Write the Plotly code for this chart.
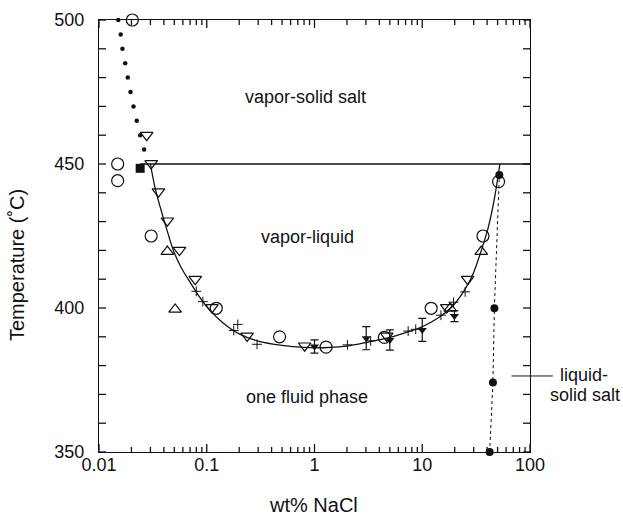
import plotly.graph_objects as go

# Vapor-liquid boundary (solid curve)
curve_x = [0.0300, 0.0330, 0.0370, 0.0420, 0.0490, 0.0580, 0.0700, 0.0850, 0.1050,
           0.1400, 0.2000, 0.3000, 0.5000, 0.8000, 1.2000, 2.0000, 3.0000, 5.0000,
           7.5000, 10.000, 14.000, 19.000, 24.000, 29.000, 35.000, 41.000, 47.000, 52.500]
curve_T = [450.0, 442.0, 435.0, 428.0, 420.0, 414.0, 409.0, 404.0, 399.5,
           395.0, 391.0, 388.5, 387.0, 386.3, 386.2, 386.8, 388.0, 389.8,
           391.8, 393.5, 396.5, 400.5, 405.5, 411.0, 419.5, 428.0, 438.5, 450.0]

# Vapor-liquid-halite line
three_phase_x = [0.0241, 100.0]
three_phase_T = [450.0, 450.0]

# Vapor-halite boundary (small dots)
vh_x = [0.0151, 0.0159, 0.0165, 0.0175, 0.0185, 0.0196, 0.0209, 0.0224, 0.0241, 0.0262]
vh_T = [500, 495, 490, 485, 480, 475, 470, 465, 460, 455]

# Filled square
sq_x = [0.0241]
sq_T = [448.5]

# Open circles
circ_x = [0.0204, 0.0149, 0.0149, 0.0305, 0.1225, 0.474, 1.28, 4.45, 12.1, 36.6, 51.1]
circ_T = [500.0, 450.0, 444.2, 425.0, 399.9, 390.0, 386.4, 389.8, 399.9, 425.0, 443.9]

# Open down-triangles
tdn_x = [0.0277, 0.0305, 0.0356, 0.0431, 0.0558, 0.0782, 0.1117, 0.237, 0.81, 4.68, 16.9, 26.4]
tdn_T = [460.0, 450.2, 440.4, 430.3, 420.1, 410.0, 400.2, 390.3, 386.9, 390.3, 400.2, 410.0]

# Open up-triangles
tup_x = [0.0431, 0.0509, 18.2, 35.3]
tup_T = [419.6, 399.5, 399.9, 419.6]

# Filled down-triangles with error bars
fdn_x = [1.00, 3.02, 5.0, 10.0, 19.9]
fdn_T = [386.6, 389.5, 388.9, 392.4, 397.2]
fdn_err = [2.3, 4.0, 3.5, 4.0, 1.9]

# Crosses
plus_x = [0.080, 0.092, 0.178, 0.194, 0.293, 2.02, 3.32, 7.4, 8.7, 14.9, 19.5, 25.0]
plus_T = [405.8, 402.2, 392.2, 394.3, 387.4, 387.2, 388.6, 392.0, 392.6, 397.5, 402.0, 405.6]

# Liquid-halite (filled circles, dotted line)
lh_x = [42.2, 45.3, 46.7, 51.9]
lh_T = [350.0, 374.1, 399.9, 446.2]

# Axis ranges and tick positions
X_RANGE_LOG = [-2, 2]
Y_RANGE = [350, 500]
x_major = [0.01, 0.1, 1, 10, 100]
x_labels = ["0.01", "0.1", "1", "10", "100"]
x_minor = [m * d for d in [0.01, 0.1, 1, 10] for m in range(2, 10)]
y_major = [350, 400, 450, 500]
y_minor = [360, 370, 380, 390, 410, 420, 430, 440, 460, 470, 480, 490]

W, H = 623, 515
M = dict(l=99, r=93, t=20, b=63)
PLOT_W = W - M["l"] - M["r"]
PLOT_H = H - M["t"] - M["b"]

FONT = "Liberation Sans, Arial, Helvetica, sans-serif"
BLACK = "#111111"

fig = go.Figure()

fig.add_trace(go.Scatter(x=three_phase_x, y=three_phase_T, mode="lines",
                         line=dict(color=BLACK, width=1.3)))
fig.add_trace(go.Scatter(x=curve_x, y=curve_T, mode="lines",
                         line=dict(color=BLACK, width=1.3, shape="spline", smoothing=0.8)))
fig.add_trace(go.Scatter(x=lh_x, y=lh_T, mode="lines+markers", cliponaxis=False,
                         line=dict(color=BLACK, width=1, dash="dot"),
                         marker=dict(symbol="circle", size=8, color=BLACK)))
fig.add_trace(go.Scatter(x=vh_x, y=vh_T, mode="markers", cliponaxis=False,
                         marker=dict(symbol="circle", size=4.5, color=BLACK)))
fig.add_trace(go.Scatter(x=sq_x, y=sq_T, mode="markers",
                         marker=dict(symbol="square", size=9, color=BLACK)))
fig.add_trace(go.Scatter(x=circ_x, y=circ_T, mode="markers", cliponaxis=False,
                         marker=dict(symbol="circle-open", size=12, color=BLACK,
                                     line=dict(color=BLACK, width=1.2))))
fig.add_trace(go.Scatter(x=tdn_x, y=tdn_T, mode="markers",
                         marker=dict(symbol="triangle-down-open", size=11, color=BLACK,
                                     line=dict(color=BLACK, width=1.2))))
fig.add_trace(go.Scatter(x=tup_x, y=tup_T, mode="markers",
                         marker=dict(symbol="triangle-up-open", size=11, color=BLACK,
                                     line=dict(color=BLACK, width=1.2))))
fig.add_trace(go.Scatter(x=fdn_x, y=fdn_T, mode="markers",
                         error_y=dict(type="data", array=fdn_err, color=BLACK,
                                      thickness=1.2, width=4),
                         marker=dict(symbol="triangle-down", size=8, color=BLACK)))
fig.add_trace(go.Scatter(x=plus_x, y=plus_T, mode="markers",
                         marker=dict(symbol="cross-thin", size=7, color=BLACK,
                                     line=dict(color=BLACK, width=1))))

# Inward tick marks on all four sides: one short line trace per tick
# (pixel lengths converted to axis units)
x_lo, x_hi = X_RANGE_LOG
y_lo, y_hi = Y_RANGE
px_y = (y_hi - y_lo) / PLOT_H          # degrees per pixel
px_x = (x_hi - x_lo) / PLOT_W          # decades per pixel
tick_line = dict(color=BLACK, width=1.3)
for v, ln in [(v, 8) for v in x_major] + [(v, 5) for v in x_minor]:
    for y0, y1 in ((y_lo, y_lo + ln * px_y), (y_hi, y_hi - ln * px_y)):
        fig.add_trace(go.Scatter(x=[v, v], y=[y0, y1], mode="lines", cliponaxis=False,
                                 hoverinfo="skip", line=tick_line))
for v in y_major + y_minor:
    ln = 7
    for x0, x1 in ((10 ** x_lo, 10 ** (x_lo + ln * px_x)), (10 ** x_hi, 10 ** (x_hi - ln * px_x))):
        fig.add_trace(go.Scatter(x=[x0, x1], y=[v, v], mode="lines", cliponaxis=False,
                                 hoverinfo="skip", line=tick_line))

tick_font = dict(family=FONT, size=18, color=BLACK)
frame = dict(showline=True, linecolor=BLACK, linewidth=1.3, mirror=True,
             ticks="", showgrid=False, zeroline=False, automargin=False)

fig.update_layout(
    xaxis=dict(type="log", range=X_RANGE_LOG, tickmode="array", tickvals=x_major,
               ticktext=x_labels, tickfont=tick_font, ticklabelstandoff=-4, **frame),
    yaxis=dict(range=Y_RANGE, tickmode="array", tickvals=y_major,
               tickfont=tick_font, ticklabelstandoff=10, **frame),
)

title_font = dict(family=FONT, size=20, color=BLACK)
center = dict(showarrow=False, xanchor="center", yanchor="middle")
fig.add_annotation(x=0.498, y=-0.122, xref="paper", yref="paper", text="wt% NaCl",
                   font=title_font, **center)
fig.add_annotation(x=-0.190, y=0.433, xref="paper", yref="paper", text="Temperature (˚C)",
                   textangle=-90, font=title_font, **center)

ann_font = dict(family=FONT, size=18, color=BLACK)
fig.add_annotation(x=0.478, y=0.822, xref="paper", yref="paper", text="vapor-solid salt",
                   font=ann_font, **center)
fig.add_annotation(x=0.483, y=0.498, xref="paper", yref="paper", text="vapor-liquid",
                   font=ann_font, **center)
fig.add_annotation(x=0.483, y=0.127, xref="paper", yref="paper", text="one fluid phase",
                   font=ann_font, **center)
fig.add_annotation(x=1.065, y=376.7, xref="paper", yref="y", text="liquid-",
                   showarrow=False, xanchor="left", yanchor="middle", font=ann_font)
fig.add_annotation(x=1.042, y=369.8, xref="paper", yref="y", text="solid salt",
                   showarrow=False, xanchor="left", yanchor="middle", font=ann_font)
fig.add_shape(type="line", xref="paper", yref="y", x0=0.957, x1=1.053, y0=376.4, y1=376.4,
              line=dict(color=BLACK, width=1))

fig.update_layout(width=W, height=H, showlegend=False, margin=M,
                  plot_bgcolor="white", paper_bgcolor="white")

fig.write_html("out.html")
